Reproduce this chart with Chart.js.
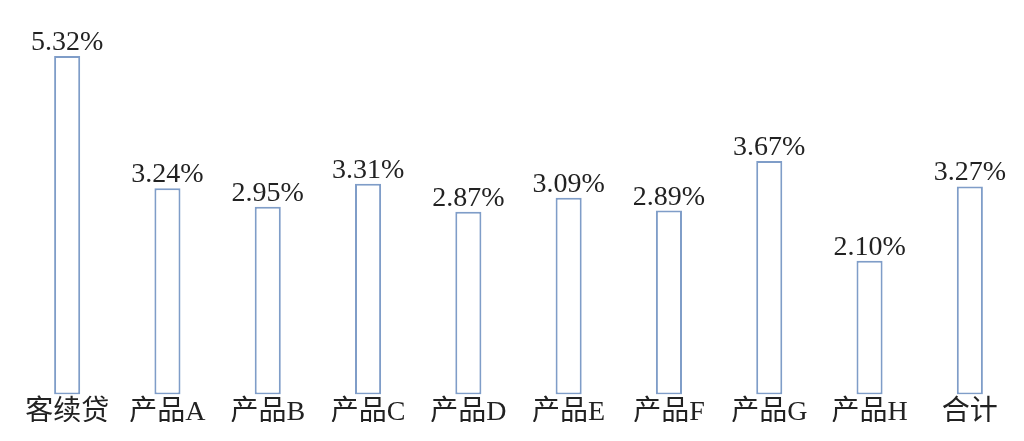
<!DOCTYPE html>
<html>
<head>
<meta charset="utf-8">
<script src="https://cdn.jsdelivr.net/npm/chart.js@4/dist/chart.umd.min.js"></script>
<style>
  html, body { margin: 0; padding: 0; background: #fff; }
  #wrap { width: 1024px; height: 441px; }
</style>
</head>
<body>
<div id="wrap"><canvas id="chart"></canvas></div>
<script>
const categories = ["客续贷", "产品A", "产品B", "产品C", "产品D", "产品E", "产品F", "产品G", "产品H", "合计"];
const rates = [5.32, 3.24, 2.95, 3.31, 2.87, 3.09, 2.89, 3.67, 2.10, 3.27];

const fontFamily = '"Liberation Serif", "Times New Roman", "Noto Sans CJK SC", serif';

// draws the percent text above each bar
const valueLabels = {
  id: "valueLabels",
  afterDatasetsDraw(chart) {
    const ctx = chart.ctx;
    const meta = chart.getDatasetMeta(0);
    ctx.save();
    ctx.font = "28px " + fontFamily;
    ctx.fillStyle = "#222";
    ctx.textAlign = "center";
    ctx.textBaseline = "alphabetic";
    meta.data.forEach((bar, i) => {
      ctx.fillText(rates[i].toFixed(2) + "%", bar.x, bar.y - 6);
    });
    ctx.restore();
  },
};

var ctx = document.getElementById("chart").getContext("2d");
new Chart(ctx, {
  type: "bar",
  data: {
    labels: categories,
    datasets: [
      {
        data: rates,
        backgroundColor: "#ffffff",
        borderColor: "#7f9dc8",
        borderWidth: 2,
        borderSkipped: false,
        categoryPercentage: 1,
        barPercentage: 0.26,
      },
    ],
  },
  options: {
    responsive: true,
    maintainAspectRatio: false,
    animation: false,
    layout: {
      padding: { left: 17, right: 4, top: 0, bottom: 19 },
    },
    plugins: {
      legend: { display: false },
      tooltip: { enabled: false },
    },
    scales: {
      x: {
        grid: { display: false },
        border: { display: false },
        ticks: {
          color: "#222",
          padding: -7,
          font: { family: fontFamily, size: 28 },
          maxRotation: 0,
          autoSkip: false,
        },
      },
      y: {
        display: false,
        min: 0,
        max: 6.2,
      },
    },
  },
  plugins: [valueLabels],
});
</script>
</body>
</html>
